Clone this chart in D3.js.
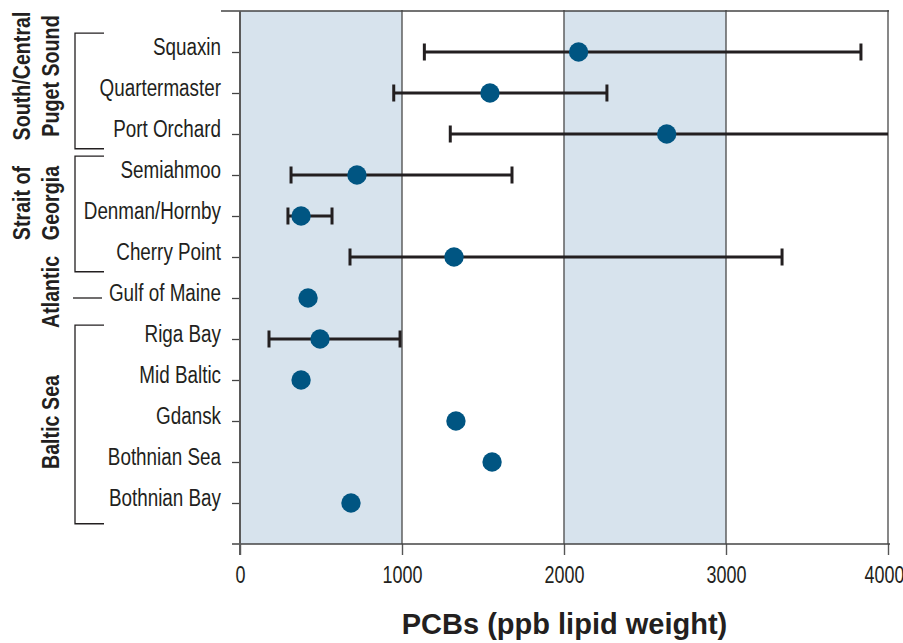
<!DOCTYPE html>
<html>
<head>
<meta charset="utf-8">
<script src="https://cdn.jsdelivr.net/npm/d3@7"></script>
<style>
  html, body { margin: 0; padding: 0; background: #fff; }
  svg { display: block; }
  text { font-family: "Liberation Sans", Arial, sans-serif; }
</style>
</head>
<body>
<svg id="chart" width="903" height="643"></svg>
<script>
// ---------------- data ----------------
const categories = ["Squaxin", "Quartermaster", "Port Orchard", "Semiahmoo", "Denman/Hornby",
  "Cherry Point", "Gulf of Maine", "Riga Bay", "Mid Baltic", "Gdansk", "Bothnian Sea", "Bothnian Bay"];
const means = [2090, 1543, 2634, 722, 377, 1321, 420, 494, 377, 1333, 1556, 685];
const lows  = [1138, 949, 1298, 315, 296, 679, null, 179, null, null, null, null];
const highs = [3833, 2265, 4300, 1679, 568, 3346, null, 988, null, null, null, null];
const xTicks = [0, 1000, 2000, 3000, 4000];
const xDomain = [0, 4000];
const shadedBands = [[0, 1000], [2000, 3000]];
const groupNames = [["South/Central", "Puget Sound"], ["Strait of", "Georgia"], ["Atlantic"], ["Baltic Sea"]];
const groupFirst = ["Squaxin", "Semiahmoo", "Gulf of Maine", "Riga Bay"];
const groupLast  = ["Port Orchard", "Cherry Point", "Gulf of Maine", "Bothnian Bay"];
const xTitle = "PCBs (ppb lipid weight)";

// ---------------- layout ----------------
const plot = { left: 240, right: 888, top: 11, bottom: 544 };
const colors = { shade: "#d7e3ed", grid: "#555555", axis: "#444444", bar: "#231f20", dot: "#005582", text: "#231f20" };
const narrow = 0.82; // horizontal condensing factor (Arial Narrow look)

const svg = d3.select("#chart");

const x = d3.scaleLinear().domain(xDomain).range([plot.left, plot.right]);
const y = d3.scalePoint().domain(categories).range([plot.top, plot.bottom]).padding(1);
const step = y.step();

// shaded bands
svg.append("g").selectAll("rect").data(shadedBands).join("rect")
  .attr("x", d => x(d[0])).attr("width", d => x(d[1]) - x(d[0]))
  .attr("y", plot.top).attr("height", plot.bottom - plot.top)
  .attr("fill", colors.shade);

// vertical gridlines (excluding 0)
svg.append("g").selectAll("line").data(xTicks.filter(t => t > 0)).join("line")
  .attr("x1", d => x(d)).attr("x2", d => x(d))
  .attr("y1", plot.top - 1).attr("y2", plot.bottom)
  .attr("stroke", colors.grid).attr("stroke-width", 1.4);

// top border (extends left beyond the axis)
svg.append("line")
  .attr("x1", plot.left - 19).attr("x2", plot.right + 1)
  .attr("y1", plot.top).attr("y2", plot.top)
  .attr("stroke", colors.axis).attr("stroke-width", 1.4);

// bottom axis
const xAxis = d3.axisBottom(x).tickValues(xTicks).tickSize(11).tickPadding(12).tickFormat(d3.format("d"));
const gx = svg.append("g").attr("transform", `translate(0,${plot.bottom})`).call(xAxis);
gx.select(".domain").remove();
gx.append("line").attr("x1", plot.left - 8).attr("x2", plot.right + 2).attr("y1", 0).attr("y2", 0)
  .attr("stroke", colors.axis).attr("stroke-width", 1.5);
gx.selectAll(".tick line").attr("stroke", colors.grid).attr("stroke-width", 1.4);
gx.selectAll(".tick text")
  .attr("font-size", 23).attr("fill", colors.text).attr("font-family", null)
  .attr("transform", d => `translate(${d === xDomain[1] ? -4 : 0},0) scale(0.78,1)`)
  .attr("y", function() { return +d3.select(this).attr("y"); });

// left axis
const yAxis = d3.axisLeft(y).tickSize(8).tickPadding(11);
const gy = svg.append("g").attr("transform", `translate(${plot.left},0)`).call(yAxis);
gy.select(".domain").remove();
gy.selectAll(".tick line").attr("stroke", colors.axis).attr("stroke-width", 1.3);
gy.selectAll(".tick text")
  .attr("font-size", 23).attr("fill", colors.text).attr("font-family", null)
  .attr("dy", "0.11em")
  .attr("x", -19 / narrow)
  .attr("transform", `scale(${narrow},1)`);
gy.append("line").attr("x1", 0).attr("x2", 0).attr("y1", plot.top).attr("y2", plot.bottom + 11)
  .attr("stroke", "#5a5a5a").attr("stroke-width", 2);

// error bars
const rows = categories.map((c, i) => ({ c, mean: means[i], low: lows[i], high: highs[i] }));
const withErr = rows.filter(r => r.low !== null && r.high !== null);
const clampX = v => x(Math.max(xDomain[0], Math.min(xDomain[1], v)));
const eb = svg.append("g").attr("stroke", colors.bar).attr("stroke-width", 3);
eb.selectAll("line.bar").data(withErr).join("line").attr("class", "bar")
  .attr("x1", d => clampX(d.low)).attr("x2", d => clampX(d.high))
  .attr("y1", d => y(d.c)).attr("y2", d => y(d.c));
const caps = [];
withErr.forEach(d => {
  [d.low, d.high].forEach(v => { if (v >= xDomain[0] && v <= xDomain[1]) caps.push({ c: d.c, v }); });
});
eb.selectAll("line.cap").data(caps).join("line").attr("class", "cap")
  .attr("x1", d => x(d.v)).attr("x2", d => x(d.v))
  .attr("y1", d => y(d.c) - 8.5).attr("y2", d => y(d.c) + 8.5);

// points
svg.append("g").selectAll("circle").data(rows).join("circle")
  .attr("cx", d => x(d.mean)).attr("cy", d => y(d.c)).attr("r", 9.7)
  .attr("fill", colors.dot);

// group brackets & labels
const gg = svg.append("g");
const bracketX = 75, bracketEnd = 104;
groupNames.forEach((lines, i) => {
  const y0 = y(groupFirst[i]), y1 = y(groupLast[i]);
  if (groupFirst[i] === groupLast[i]) {
    gg.append("line").attr("x1", bracketX - 2).attr("x2", bracketEnd - 2).attr("y1", y0).attr("y2", y0)
      .attr("stroke", colors.bar).attr("stroke-width", 1.3);
  } else {
    const top = y0 - step * 0.46, bot = y1 + step * 0.36 + (i === 3 ? 6 : 0);
    const t = (i === 3 ? top + 5 : top);
    gg.append("path")
      .attr("d", `M${bracketEnd},${t}H${bracketX}V${bot}H${bracketEnd}`)
      .attr("fill", "none").attr("stroke", colors.bar).attr("stroke-width", 1.3);
  }
  const cy = [76, 203, 292, 422][i];
  const cols = lines.length === 2 ? [30, 59] : [59];
  lines.forEach((ln, j) => {
    gg.append("text")
      .attr("transform", `translate(${cols[j]},${cy}) rotate(-90) scale(${narrow},1)`)
      .attr("text-anchor", "middle").attr("font-size", 24).attr("font-weight", "bold")
      .attr("fill", colors.text).text(ln);
  });
});

// x title
svg.append("text")
  .attr("x", (plot.left + plot.right) / 2 + 0.5).attr("y", 634)
  .attr("text-anchor", "middle")
  .attr("font-size", 29).attr("font-weight", "bold").attr("fill", colors.text)
  .text(xTitle);
</script>
</body>
</html>
